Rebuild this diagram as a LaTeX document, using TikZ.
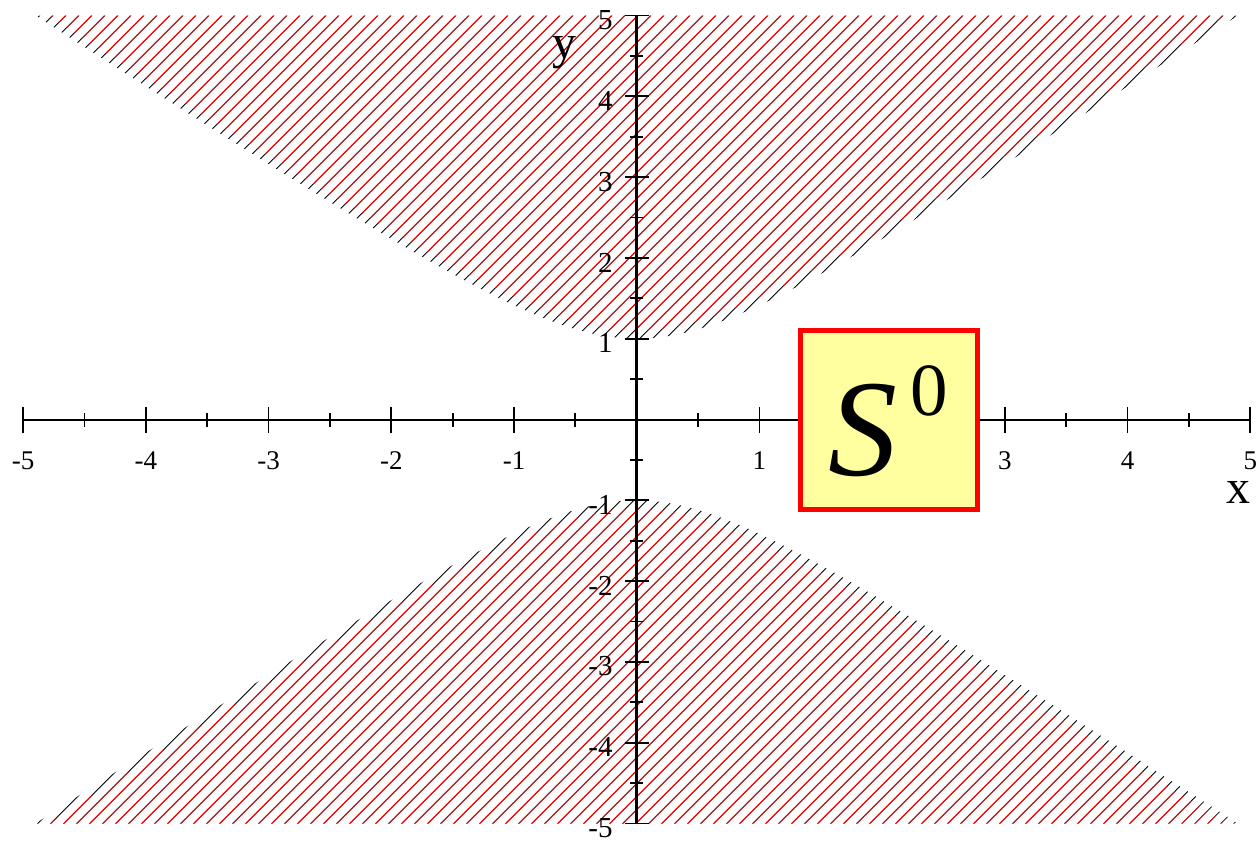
\documentclass[tikz,border=0pt]{standalone}
\usepackage{fontspec}
\setmainfont{Liberation Serif}
\begin{document}
\begin{tikzpicture}[x=122.7pt,y=80.8pt,
  axisline/.style={line width=2pt,black},
  tickmark/.style={line width=1.8pt,black},
  xlab/.style={font=\fontsize{27}{27}\selectfont,inner sep=0pt,anchor=center},
  ylab/.style={font=\fontsize{29}{29}\selectfont,inner sep=0pt,anchor=east},
  axlab/.style={font=\fontsize{48}{48}\selectfont,inner sep=0pt,anchor=base},
  hatchred/.style={red,line width=0.8pt},
  hatchblack/.style={black,line width=0.8pt},
  sbox/.style={draw=red,line width=5pt,fill={rgb,255:red,255;green,255;blue,160},
               minimum width=177pt,minimum height=179pt,inner sep=0pt}]
\useasboundingbox (-5.189,-5.229) rectangle (5.055,5.192);

% upper region: boundary band (black) then interior (red)
\begin{scope}
  \clip plot[domain=-4.899:4.899,samples=121] (\x,{sqrt(1+\x*\x)}) -- cycle;
  \begin{scope}[x=1pt,y=1pt]
    \foreach \c in {-1105,-1092,...,1105} \draw[hatchblack] ({\c-600},-600) -- ({\c+600},600);
  \end{scope}
\end{scope}
\begin{scope}
  \clip plot[domain=-4.7958:4.7958,samples=121] (\x,{sqrt(1+\x*\x)+0.1}) -- cycle;
  \begin{scope}[x=1pt,y=1pt]
    \foreach \c in {-1105,-1092,...,1105} \draw[hatchred] ({\c-600},-600) -- ({\c+600},600);
  \end{scope}
\end{scope}
% lower region
\begin{scope}
  \clip plot[domain=-4.899:4.899,samples=121] (\x,{-sqrt(1+\x*\x)}) -- cycle;
  \begin{scope}[x=1pt,y=1pt]
    \foreach \c in {-1105,-1092,...,1105} \draw[hatchblack] ({\c-600},-600) -- ({\c+600},600);
  \end{scope}
\end{scope}
\begin{scope}
  \clip plot[domain=-4.7958:4.7958,samples=121] (\x,{-sqrt(1+\x*\x)-0.1}) -- cycle;
  \begin{scope}[x=1pt,y=1pt]
    \foreach \c in {-1105,-1092,...,1105} \draw[hatchred] ({\c-600},-600) -- ({\c+600},600);
  \end{scope}
\end{scope}

% axes
\draw[axisline] (-5,0) -- (5,0);
\draw[axisline,line width=2.5pt] (0,-5) -- (0,5);
\foreach \i in {-5,...,5} \draw[tickmark] (\i,0) ++(0,-13pt) -- ++(0,26pt);
\foreach \i in {-4.5,-3.5,...,4.5} \draw[tickmark] (\i,0) ++(0,-7pt) -- ++(0,14pt);
\foreach \i in {-5,...,5} \draw[tickmark] (0,\i) ++(-12pt,0) -- ++(24pt,0);
\foreach \i in {-4.5,-3.5,...,4.5} \draw[tickmark] (0,\i) ++(-6.5pt,0) -- ++(13pt,0);

% tick labels
\foreach \i [count=\k] in {-5,-4,-3,-2,-1,1,3,4,5}
  \node[xlab] (xl\k) at ([yshift=-41.5pt]\i,0) {\i};
\foreach \i [count=\k] in {-5,-4,-3,-2,-1,1,2,3,4,5}
  \node[ylab] (yl\k) at ([xshift=-24pt,yshift=-4.5pt]0,\i) {\i};

% axis names
\node[axlab] (xname) at (4.905,-1.033) {x};
\node[axlab] (yname) at (-0.5925,4.462) {y};

% S^0 box
\node[sbox] (s0box) at (2.056,0) {};
\node[inner sep=0pt,anchor=base,font=\fontsize{138}{138}\selectfont\itshape] (sS) at (1.840,-0.687) {S};
\node[inner sep=0pt,anchor=base,font=\fontsize{75}{75}\selectfont] (sZ) at (2.386,0.056) {0};
\end{tikzpicture}
\end{document}
